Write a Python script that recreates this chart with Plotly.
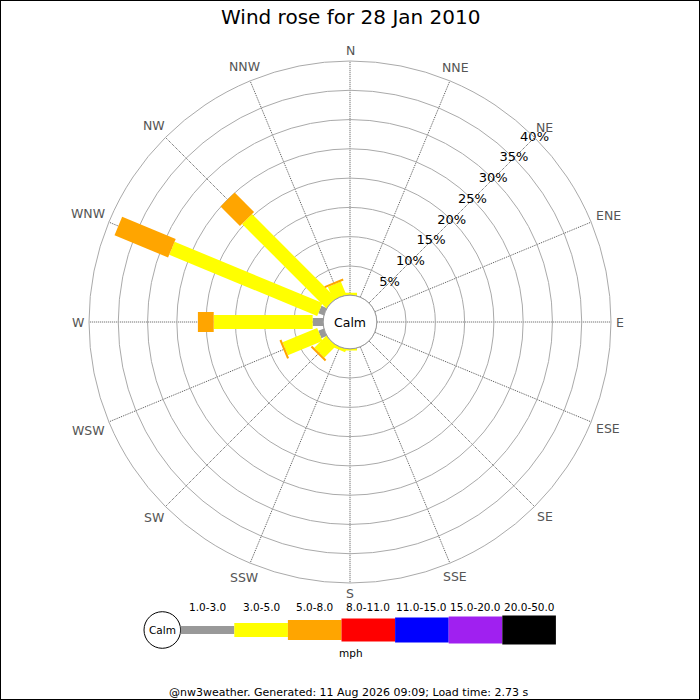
import math
import plotly.graph_objects as go

# ---------------- data ----------------
directions = ["N", "NNE", "NE", "ENE", "E", "ESE", "SE", "SSE",
              "S", "SSW", "SW", "WSW", "W", "WNW", "NW", "NNW"]
dir_angles = [0, 22.5, 45, 67.5, 90, 112.5, 135, 157.5,
              180, 202.5, 225, 247.5, 270, 292.5, 315, 337.5]
speed_bins = ["1.0-3.0", "3.0-5.0", "5.0-8.0", "8.0-11.0",
              "11.0-15.0", "15.0-20.0", "20.0-50.0"]
bin_colors = ["#999999", "#ffff00", "#ffa500", "#ff0000",
              "#0000ff", "#a020f0", "#000000"]

# percent of time, per direction (N ... NNW) for each speed bin (mph)
pct_1_3 = [0, 0, 0, 0, 0, 0, 0, 0, 0, 0, 0, 1.0, 1.8, 1.0, 0, 0]
pct_3_5 = [0.4, 0, 0, 0, 0, 0, 0, 0, 0.3, 0.5, 2.85, 6.4, 16.9, 27.35, 20.3, 2.4]
pct_5_8 = [0, 0, 0, 0, 0, 0, 0, 0, 0, 0, 0.35, 0.35, 2.7, 9.9, 4.7, 0.35]
pct_8_11 = [0] * 16
pct_11_15 = [0] * 16
pct_15_20 = [0] * 16
pct_20_50 = [0] * 16
series = [pct_1_3, pct_3_5, pct_5_8, pct_8_11, pct_11_15, pct_15_20, pct_20_50]

radial_ticks = [5, 10, 15, 20, 25, 30, 35, 40]
title_text = "Wind rose for 28 Jan 2010"
footer_text = "@nw3weather. Generated: 11 Aug 2026 09:09; Load time: 2.73 s"
unit_text = "mph"

# ---------------- geometry / style ----------------
W, H = 700, 700
CX, CY = 350, 322          # rose centre (px)
R = 261                    # outer radius (px)
HOLE_PX = 26.8             # calm circle radius (px)
RMAX = 40
LABEL_R0 = 266             # compass label box distance from centre (px)
LABEL_SIZE = 12.5
CHAR_EM = {"N": 0.748, "E": 0.632, "S": 0.635, "W": 0.989}
seg_width_px = [8, 14, 20, 23, 25, 27, 29]
K = (R - HOLE_PX) / RMAX   # px per percent


def px(x):
    return x / W


def py(y):
    return 1 - y / H


fig = go.Figure()

# stacked rectangular bars, drawn as filled polygons in polar data space
for d, ang in enumerate(dir_angles):
    cum = 0.0
    for b, vals in enumerate(series):
        v = vals[d]
        if v <= 0:
            continue
        w = seg_width_px[b] / 2
        if cum == 0:
            p1 = math.sqrt(max(HOLE_PX ** 2 - w ** 2, 0))
        else:
            p1 = HOLE_PX + cum * K
        p2 = HOLE_PX + (cum + v) * K
        rs, ts = [], []
        for a, c in [(p1, -w), (p2, -w), (p2, w), (p1, w), (p1, -w)]:
            rr = math.hypot(a, c)
            rs.append(max((rr - HOLE_PX) / K, 0))
            ts.append(ang + math.degrees(math.atan2(c, a)))
        fig.add_trace(go.Scatterpolar(
            r=rs, theta=ts, mode="lines", fill="toself",
            fillcolor=bin_colors[b], line=dict(width=0, color=bin_colors[b]),
            hoverinfo="skip", showlegend=False))
        cum += v

# radial percentage labels along NE
fig.add_trace(go.Scatterpolar(
    r=radial_ticks, theta=[45] * len(radial_ticks), mode="text",
    text=[f"{v}%" for v in radial_ticks],
    textfont=dict(family="DejaVu Sans", size=13, color="#000000"),
    textposition="middle center", cliponaxis=False,
    hoverinfo="skip", showlegend=False))

shapes = []
annotations = []

# compass labels, boxes placed just outside the outer ring
for lab, ang in zip(directions, dir_angles):
    a = math.radians(ang)
    tw = sum(CHAR_EM[ch] for ch in lab) * LABEL_SIZE
    th = 0.8 * LABEL_SIZE
    dist = LABEL_R0 + (tw / 2) * abs(math.sin(a)) + (th / 2) * abs(math.cos(a))
    annotations.append(dict(text=lab, x=px(CX + dist * math.sin(a)),
                            y=py(CY - dist * math.cos(a)),
                            xref="paper", yref="paper", showarrow=False,
                            font=dict(family="DejaVu Sans", size=LABEL_SIZE, color="#555555"),
                            xanchor="center", yanchor="middle"))

# calm circle in the centre
shapes.append(dict(type="circle", xref="paper", yref="paper",
                   x0=px(CX - HOLE_PX), x1=px(CX + HOLE_PX),
                   y0=py(CY + HOLE_PX), y1=py(CY - HOLE_PX),
                   fillcolor="white", line=dict(color="#999999", width=1),
                   layer="above"))
annotations.append(dict(text="Calm", x=px(CX), y=py(CY), xref="paper", yref="paper",
                        showarrow=False, font=dict(family="DejaVu Sans", size=12.5, color="#000"),
                        xanchor="center", yanchor="middle"))

# legend
LEG_CY = 630
LEG_X0 = 180.7
LEG_STEP = 53.6
CALM_LX, CALM_LR = 162.3, 18.3
shapes.append(dict(type="circle", xref="paper", yref="paper",
                   x0=px(CALM_LX - CALM_LR), x1=px(CALM_LX + CALM_LR),
                   y0=py(LEG_CY + CALM_LR), y1=py(LEG_CY - CALM_LR),
                   fillcolor="white", line=dict(color="#000000", width=1)))
annotations.append(dict(text="Calm", x=px(CALM_LX), y=py(LEG_CY), xref="paper", yref="paper",
                        showarrow=False, font=dict(family="DejaVu Sans", size=10.5, color="#000"),
                        xanchor="center", yanchor="middle"))
for i, (lab, col, wpx) in enumerate(zip(speed_bins, bin_colors, seg_width_px)):
    x0 = LEG_X0 + i * LEG_STEP
    x1 = x0 + LEG_STEP
    shapes.append(dict(type="rect", xref="paper", yref="paper",
                       x0=px(x0), x1=px(x1),
                       y0=py(LEG_CY + wpx / 2), y1=py(LEG_CY - wpx / 2),
                       fillcolor=col, line=dict(width=0)))
    annotations.append(dict(text=lab, x=px((x0 + x1) / 2), y=py(607), xref="paper", yref="paper",
                            showarrow=False, font=dict(family="DejaVu Sans", size=10.5, color="#000"),
                            xanchor="center", yanchor="middle"))
annotations.append(dict(text=unit_text, x=px(351), y=py(653), xref="paper", yref="paper",
                        showarrow=False, font=dict(family="DejaVu Sans", size=10.5, color="#000"),
                        xanchor="center", yanchor="middle"))
annotations.append(dict(text=footer_text, x=px(348), y=py(692), xref="paper", yref="paper",
                        showarrow=False, font=dict(family="DejaVu Sans", size=11, color="#000"),
                        xanchor="center", yanchor="middle"))
annotations.append(dict(text=title_text, x=0.5, y=py(17), xref="paper", yref="paper",
                        showarrow=False, font=dict(family="DejaVu Sans", size=20, color="#000"),
                        xanchor="center", yanchor="middle"))

# image frame
shapes.append(dict(type="rect", xref="paper", yref="paper", x0=0, x1=1, y0=0, y1=1,
                   line=dict(color="#000000", width=2), fillcolor="rgba(0,0,0,0)"))

fig.update_layout(
    width=W, height=H,
    margin=dict(l=0, r=0, t=0, b=0),
    paper_bgcolor="white",
    showlegend=False,
    font=dict(family="DejaVu Sans"),
    shapes=shapes,
    annotations=annotations,
    polar=dict(
        domain=dict(x=[px(CX - R), px(CX + R)], y=[py(CY + R), py(CY - R)]),
        hole=HOLE_PX / R,
        bgcolor="white",
        radialaxis=dict(range=[0, RMAX], tickvals=radial_ticks, showticklabels=False,
                        ticks="", showline=False, gridcolor="#aaaaaa", gridwidth=1),
        angularaxis=dict(tickmode="array", tickvals=dir_angles, showticklabels=False,
                         direction="clockwise", rotation=90, ticks="",
                         showline=True, linecolor="#aaaaaa", linewidth=1,
                         gridcolor="#555555", gridwidth=1, griddash="1px,1px"),
    ),
)

fig.write_html("out.html", config={"displayModeBar": False},
               post_script="document.body.style.margin='0';")
